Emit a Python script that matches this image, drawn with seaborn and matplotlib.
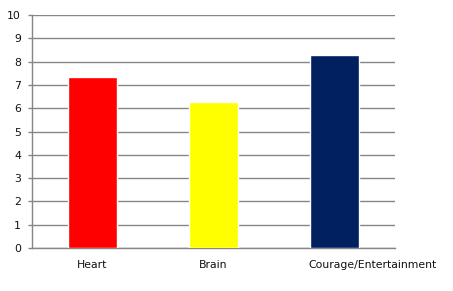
import matplotlib
matplotlib.use("Agg")
import matplotlib.pyplot as plt
import matplotlib.transforms as mtransforms
import seaborn as sns
import pandas as pd

categories = ["Heart", "Brain", "Courage/Entertainment"]
values = [7.35, 6.28, 8.3]
colors = ["#FF0000", "#FFFF00", "#002060"]
yticks = list(range(0, 11))

sns.set_style("white")
plt.rcParams["font.family"] = ["DejaVu Sans"]

fig = plt.figure(figsize=(4.53, 2.91), dpi=100)
ax = fig.add_axes([32/453, 1-248/291, (395-32)/453, (248-15)/291])

df = pd.DataFrame({"cat": categories, "val": values})
sns.barplot(data=df, x="cat", y="val", hue="cat", palette=colors, width=0.4,
            legend=False, ax=ax, saturation=1, zorder=3)

ax.set_ylim(0, 10)
ax.set_xlim(-0.5, 2.5)
ax.set_yticks(yticks)
ax.set_yticklabels([str(t) for t in yticks], fontsize=7.8, color="#111111")
ax.yaxis.grid(True, color="#868686", linewidth=1.0, zorder=0)
ax.set_axisbelow(True)
ax.set_xlabel("")
ax.set_ylabel("")

for s in ["top", "right"]:
    ax.spines[s].set_visible(False)
for s in ["left", "bottom"]:
    ax.spines[s].set_color("#868686")
    ax.spines[s].set_linewidth(1.0)

ax.tick_params(axis="y", direction="out", length=3, width=1, color="#868686", pad=5, left=True)
ax.set_xticks(range(len(categories)))
ax.set_xticklabels(categories, fontsize=7.8, color="#111111")
ax.tick_params(axis="x", length=0, pad=9)
ax.set_xticks([-0.5, 0.5, 1.5, 2.5], minor=True)
ax.tick_params(axis="x", which="minor", direction="out", length=3, width=1, color="#868686")

lbls = ax.get_xticklabels()
off = mtransforms.ScaledTranslation(38/100, 0, fig.dpi_scale_trans)
lbls[2].set_transform(lbls[2].get_transform() + off)

fig.savefig("out.png", dpi=100, facecolor="white")
